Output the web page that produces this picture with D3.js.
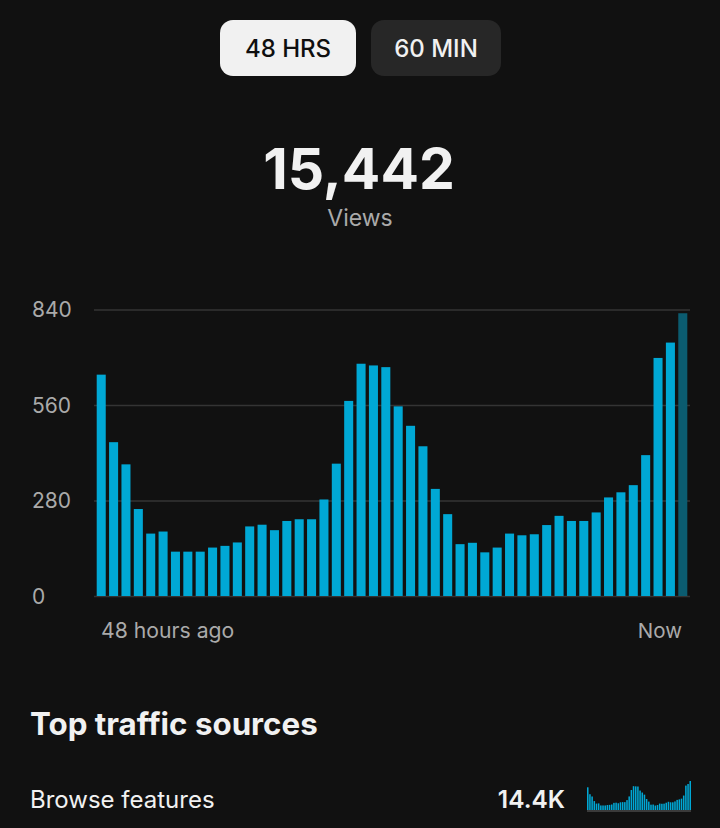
<!DOCTYPE html>
<html>
<head>
<meta charset="utf-8">
<script src="https://cdn.jsdelivr.net/npm/d3@7/dist/d3.min.js"></script>
<style>
  html, body { margin: 0; padding: 0; background: #111111; }
  svg { display: block; font-family: Inter, "Noto Sans", Roboto, sans-serif; }
</style>
</head>
<body>
<svg id="chart" width="720" height="828"></svg>
<script>
// ---- data ----
const hours = d3.range(48); // 48 hours ago ... now
const views = [649, 451, 386, 255, 183, 189, 130, 130, 130, 142, 147, 157,
               204, 209, 193, 220, 225, 225, 283, 388, 572, 681, 676, 671,
               556, 499, 439, 314, 240, 152, 156, 128, 142, 183, 178, 181,
               208, 235, 220, 220, 245, 289, 304, 325, 413, 698, 743, 829];
const yTicks = [0, 280, 560, 840];
const xLabels = ["48 hours ago", "Now"];
const rangeButtons = ["48 HRS", "60 MIN"];
const totalViews = "15,442";
const totalLabel = "Views";
const sectionTitle = "Top traffic sources";
const sources = ["Browse features"];
const sourceValues = ["14.4K"];

// ---- styles ----
const BG = "#111111";
const BAR = "#00a8d5";
const BAR_CURRENT = "#0b5c70";
const GRID = "#343434";
const MUTED = "#aaaaaa";

const svg = d3.select("#chart");
svg.append("rect").attr("width", 720).attr("height", 828).attr("fill", BG);

// ---- buttons ----
const btn = svg.append("g");
const btnBoxes = [{x0: 220, x1: 356, active: true}, {x0: 371, x1: 501, active: false}];
rangeButtons.forEach((t, i) => {
  const b = btnBoxes[i];
  btn.append("rect")
    .attr("x", b.x0).attr("y", 20).attr("width", b.x1 - b.x0).attr("height", 56)
    .attr("rx", 13)
    .attr("fill", b.active ? "#f1f1f1" : "#272727");
  btn.append("text")
    .attr("x", (b.x0 + b.x1) / 2).attr("y", 57)
    .attr("text-anchor", "middle")
    .attr("font-size", 24).attr("font-weight", 500)
    .attr("fill", b.active ? "#0f0f0f" : "#f1f1f1")
    .text(t);
});

// ---- total ----
svg.append("text")
  .attr("x", 359).attr("y", 188.5).attr("text-anchor", "middle")
  .attr("font-size", 57).attr("font-weight", 700).attr("fill", "#f1f1f1")
  .text(totalViews);
svg.append("text")
  .attr("x", 360).attr("y", 225.5).attr("text-anchor", "middle")
  .attr("font-size", 23).attr("fill", MUTED)
  .text(totalLabel);

// ---- main chart ----
const x = d3.scaleBand().domain(hours).range([96.7, 687.3]).paddingInner(0.27).paddingOuter(0);
const y = d3.scaleLinear().domain([0, 840]).range([596, 309.5]);

const gridLeft = 94, gridRight = 690;
const yAxis = svg.append("g")
  .attr("transform", `translate(${gridLeft},0)`)
  .call(d3.axisLeft(y).tickValues(yTicks).tickSize(-(gridRight - gridLeft)).tickFormat(d3.format("d")));
yAxis.select(".domain").remove();
yAxis.selectAll(".tick line").attr("stroke", GRID).attr("stroke-width", 1.6);
yAxis.selectAll(".tick text")
  .attr("x", 32 - gridLeft).attr("dy", "0.35em")
  .attr("text-anchor", "start")
  .attr("font-size", 21).attr("fill", MUTED)
  .attr("font-family", "Inter, 'Noto Sans', sans-serif");

svg.append("g").selectAll("rect").data(views).join("rect")
  .attr("x", (d, i) => x(hours[i]))
  .attr("width", x.bandwidth())
  .attr("y", d => y(d))
  .attr("height", d => y(0) - y(d))
  .attr("fill", (d, i) => i === views.length - 1 ? BAR_CURRENT : BAR);

svg.append("text").attr("x", 101).attr("y", 638)
  .attr("font-size", 21.2).attr("fill", MUTED).text(xLabels[0]);
svg.append("text").attr("x", 682).attr("y", 638).attr("text-anchor", "end")
  .attr("font-size", 20.5).attr("fill", MUTED).text(xLabels[1]);

// ---- traffic sources ----
svg.append("text").attr("x", 30).attr("y", 735)
  .attr("font-size", 31.3).attr("font-weight", 700).attr("fill", "#f1f1f1")
  .text(sectionTitle);
svg.append("text").attr("x", 30).attr("y", 808)
  .attr("font-size", 24).attr("fill", "#f1f1f1").text(sources[0]);
svg.append("text").attr("x", 565).attr("y", 808).attr("text-anchor", "end")
  .attr("font-size", 24.5).attr("font-weight", 600).attr("fill", "#f1f1f1").text(sourceValues[0]);

// sparkline
const sx = d3.scaleBand().domain(hours).range([587, 691]).paddingInner(0.3).paddingOuter(0);
const sy = d3.scaleLinear().domain([0, d3.max(views)]).range([810, 781]);
svg.append("line").attr("x1", 587).attr("x2", 691).attr("y1", 811).attr("y2", 811)
  .attr("stroke", "#3a3a3a").attr("stroke-width", 2);
svg.append("g").selectAll("rect").data(views).join("rect")
  .attr("x", (d, i) => sx(hours[i]))
  .attr("width", sx.bandwidth())
  .attr("y", d => sy(d))
  .attr("height", d => sy(0) - sy(d))
  .attr("fill", BAR);
</script>
</body>
</html>
